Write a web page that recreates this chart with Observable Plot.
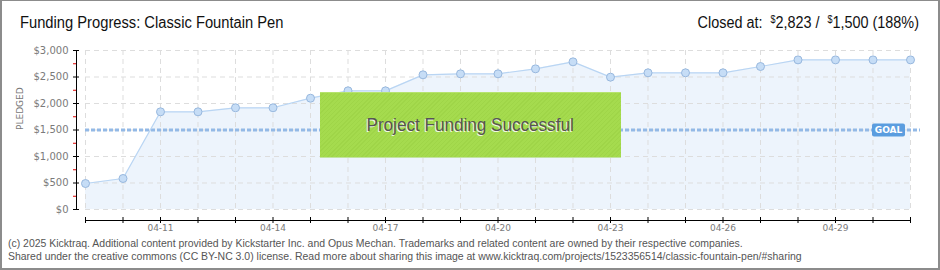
<!DOCTYPE html>
<html><head><meta charset="utf-8">
<script src="https://cdn.jsdelivr.net/npm/d3@7"></script>
<script src="https://cdn.jsdelivr.net/npm/@observablehq/plot@0.6"></script>
<style>
body{margin:0;background:#fff;}
#wrap{position:relative;width:940px;height:270px;overflow:hidden;background:#fff;font-family:"Liberation Sans",Arial,sans-serif;}
#wrap svg{position:absolute;left:0;top:0;}
#border{position:absolute;left:0;top:0;width:940px;height:270px;box-sizing:border-box;border:1px solid #8c8c8c;border-left-width:2px;border-right-width:2px;border-bottom-width:2px;pointer-events:none;}
#title{position:absolute;left:20px;top:14px;font-size:16px;color:#111;white-space:nowrap;transform:scaleX(0.92);transform-origin:left center;}
#closed{position:absolute;right:21px;top:14px;font-size:16px;color:#111;white-space:nowrap;transform:scaleX(0.9);transform-origin:right center;}
#closed sup{font-size:10px;vertical-align:5px;line-height:0;}
#banner{position:absolute;left:320px;top:92px;width:301px;height:66px;box-sizing:border-box;
  background:repeating-linear-gradient(135deg,#a5db4e 0px,#a5db4e 2px,#9fd548 2px,#9fd548 3px);
  border-top:1px solid #b6e36e;border-bottom:1px solid #c2e3a0;
  display:flex;align-items:center;justify-content:center;font-size:19px;color:#555;
  text-shadow:-1px 1px 0 rgba(255,255,255,0.85);}
#banner span{display:inline-block;transform:scaleX(0.9);}
#foot{position:absolute;left:8px;top:237px;font-size:11.5px;line-height:13px;color:#555;white-space:nowrap;transform:scaleX(0.91);transform-origin:left top;}
</style>
</head><body>
<div id="wrap">
  <div id="title">Funding Progress: Classic Fountain Pen</div>
  <div id="closed">Closed at: &nbsp;<sup>$</sup>2,823 / &nbsp;<sup>$</sup>1,500 (188%)</div>
  <div id="chart"></div>
  <div id="banner"><span>Project Funding Successful</span></div>
  <div id="foot">(c) 2025 Kicktraq. Additional content provided by Kickstarter Inc. and Opus Mechan. Trademarks and related content are owned by their respective companies.<br>Shared under the creative commons (CC BY-NC 3.0) license. Read more about sharing this image at www.kicktraq.com/projects/1523356514/classic-fountain-pen/#sharing</div>
  <div id="border"></div>
</div>
<script>
const dates = ["2025-04-09","2025-04-10","2025-04-11","2025-04-12","2025-04-13","2025-04-14","2025-04-15","2025-04-16","2025-04-17","2025-04-18","2025-04-19","2025-04-20","2025-04-21","2025-04-22","2025-04-23","2025-04-24","2025-04-25","2025-04-26","2025-04-27","2025-04-28","2025-04-29","2025-04-30","2025-05-01"];
const pledged = [490,585,1843,1843,1919,1919,2100,2239,2239,2541,2560,2560,2654,2786,2497,2579,2579,2579,2698,2823,2823,2823,2823];
const goal = 1500;
const yTicks = [0,500,1000,1500,2000,2500,3000];
const yMinorTicks = [250,750,1250,1750,2250,2750];
const xLabelDates = ["2025-04-11","2025-04-14","2025-04-17","2025-04-20","2025-04-23","2025-04-26","2025-04-29"];

const parse = s => new Date(s + "T00:00:00Z");
const data = dates.map((d,i) => ({date: parse(d), value: pledged[i]}));
const allDays = dates.map(parse);
const labelDays = xLabelDates.map(parse);
const firstDay = allDays[0], lastDay = allDays[allDays.length-1];

const goalSymbol = {
  draw(ctx){
    const w=16.5,h=6.5,r=2;
    ctx.moveTo(-w+r,-h); ctx.lineTo(w-r,-h); ctx.arcTo(w,-h,w,-h+r,r);
    ctx.lineTo(w,h-r); ctx.arcTo(w,h,w-r,h,r); ctx.lineTo(-w+r,h); ctx.arcTo(-w,h,-w,h-r,r);
    ctx.lineTo(-w,-h+r); ctx.arcTo(-w,-h,-w+r,-h,r); ctx.closePath();
  }
};

const chart = Plot.plot({
  width: 940, height: 270,
  marginLeft: 85, marginRight: 30, marginTop: 50, marginBottom: 61,
  style: {fontFamily: "DejaVu Sans, sans-serif", background: "transparent", overflow: "visible"},
  x: {type: "utc", domain: [firstDay, lastDay]},
  y: {domain: [0, 3000]},
  marks: [
    Plot.areaY(data, {x: "date", y: "value", fill: "#edf4fc"}),
    Plot.gridX(allDays, {stroke: "#dddddd", strokeOpacity: 1, strokeDasharray: "5,4"}),
    Plot.gridY(yTicks, {stroke: "#dddddd", strokeOpacity: 1, strokeDasharray: "5,4"}),
    Plot.ruleY([goal], {stroke: "#93b9e6", strokeWidth: 3, strokeDasharray: "4,2", insetRight: -10}),
    Plot.lineY(data, {x: "date", y: "value", stroke: "#b9d5f3", strokeWidth: 1.2}),
    Plot.dot(data, {x: "date", y: "value", r: 4, fill: "#c6ddf6", stroke: "#98b8de", strokeWidth: 1}),
    Plot.dot([goal], {x: () => lastDay, y: d => d, dx: -22, symbol: goalSymbol, fill: "#5b9ddf", stroke: "none"}),
    Plot.text([goal], {x: () => lastDay, y: d => d, dx: -22, text: () => "GOAL", fill: "#fff", fontSize: 9, fontWeight: "bold"}),
    // y axis
    Plot.ruleX([firstDay], {dx: -9, stroke: "#000"}),
    Plot.axisY({ticks: yTicks, tickSize: 6, dx: -6, tickFormat: () => "", color: "#000", label: null}),
    Plot.axisY({ticks: yMinorTicks, tickSize: 3, dx: -9, tickFormat: () => "", color: "#e00000", label: null}),
    Plot.axisY({ticks: yTicks, tickSize: 0, tickPadding: 3, dx: -14, tickFormat: d3.format("$,"), color: "#7a7a7a", fontSize: 10, label: null}),
    Plot.text(["PLEDGED"], {frameAnchor: "left", dx: -65, rotate: -90, fill: "#777", fontSize: 9, letterSpacing: "2px"}),
    // x axis
    Plot.ruleY([0], {dy: 11, stroke: "#000"}),
    Plot.axisX({ticks: allDays, tickSize: 6, dy: 8, tickFormat: () => "", color: "#000", label: null}),
    Plot.axisX({ticks: labelDays, tickSize: 0, tickPadding: 3, dy: 12, tickFormat: d3.utcFormat("%m-%d"), color: "#7a7a7a", fontSize: 9, label: null})
  ]
});
document.getElementById("chart").appendChild(chart);
</script>
</body></html>
